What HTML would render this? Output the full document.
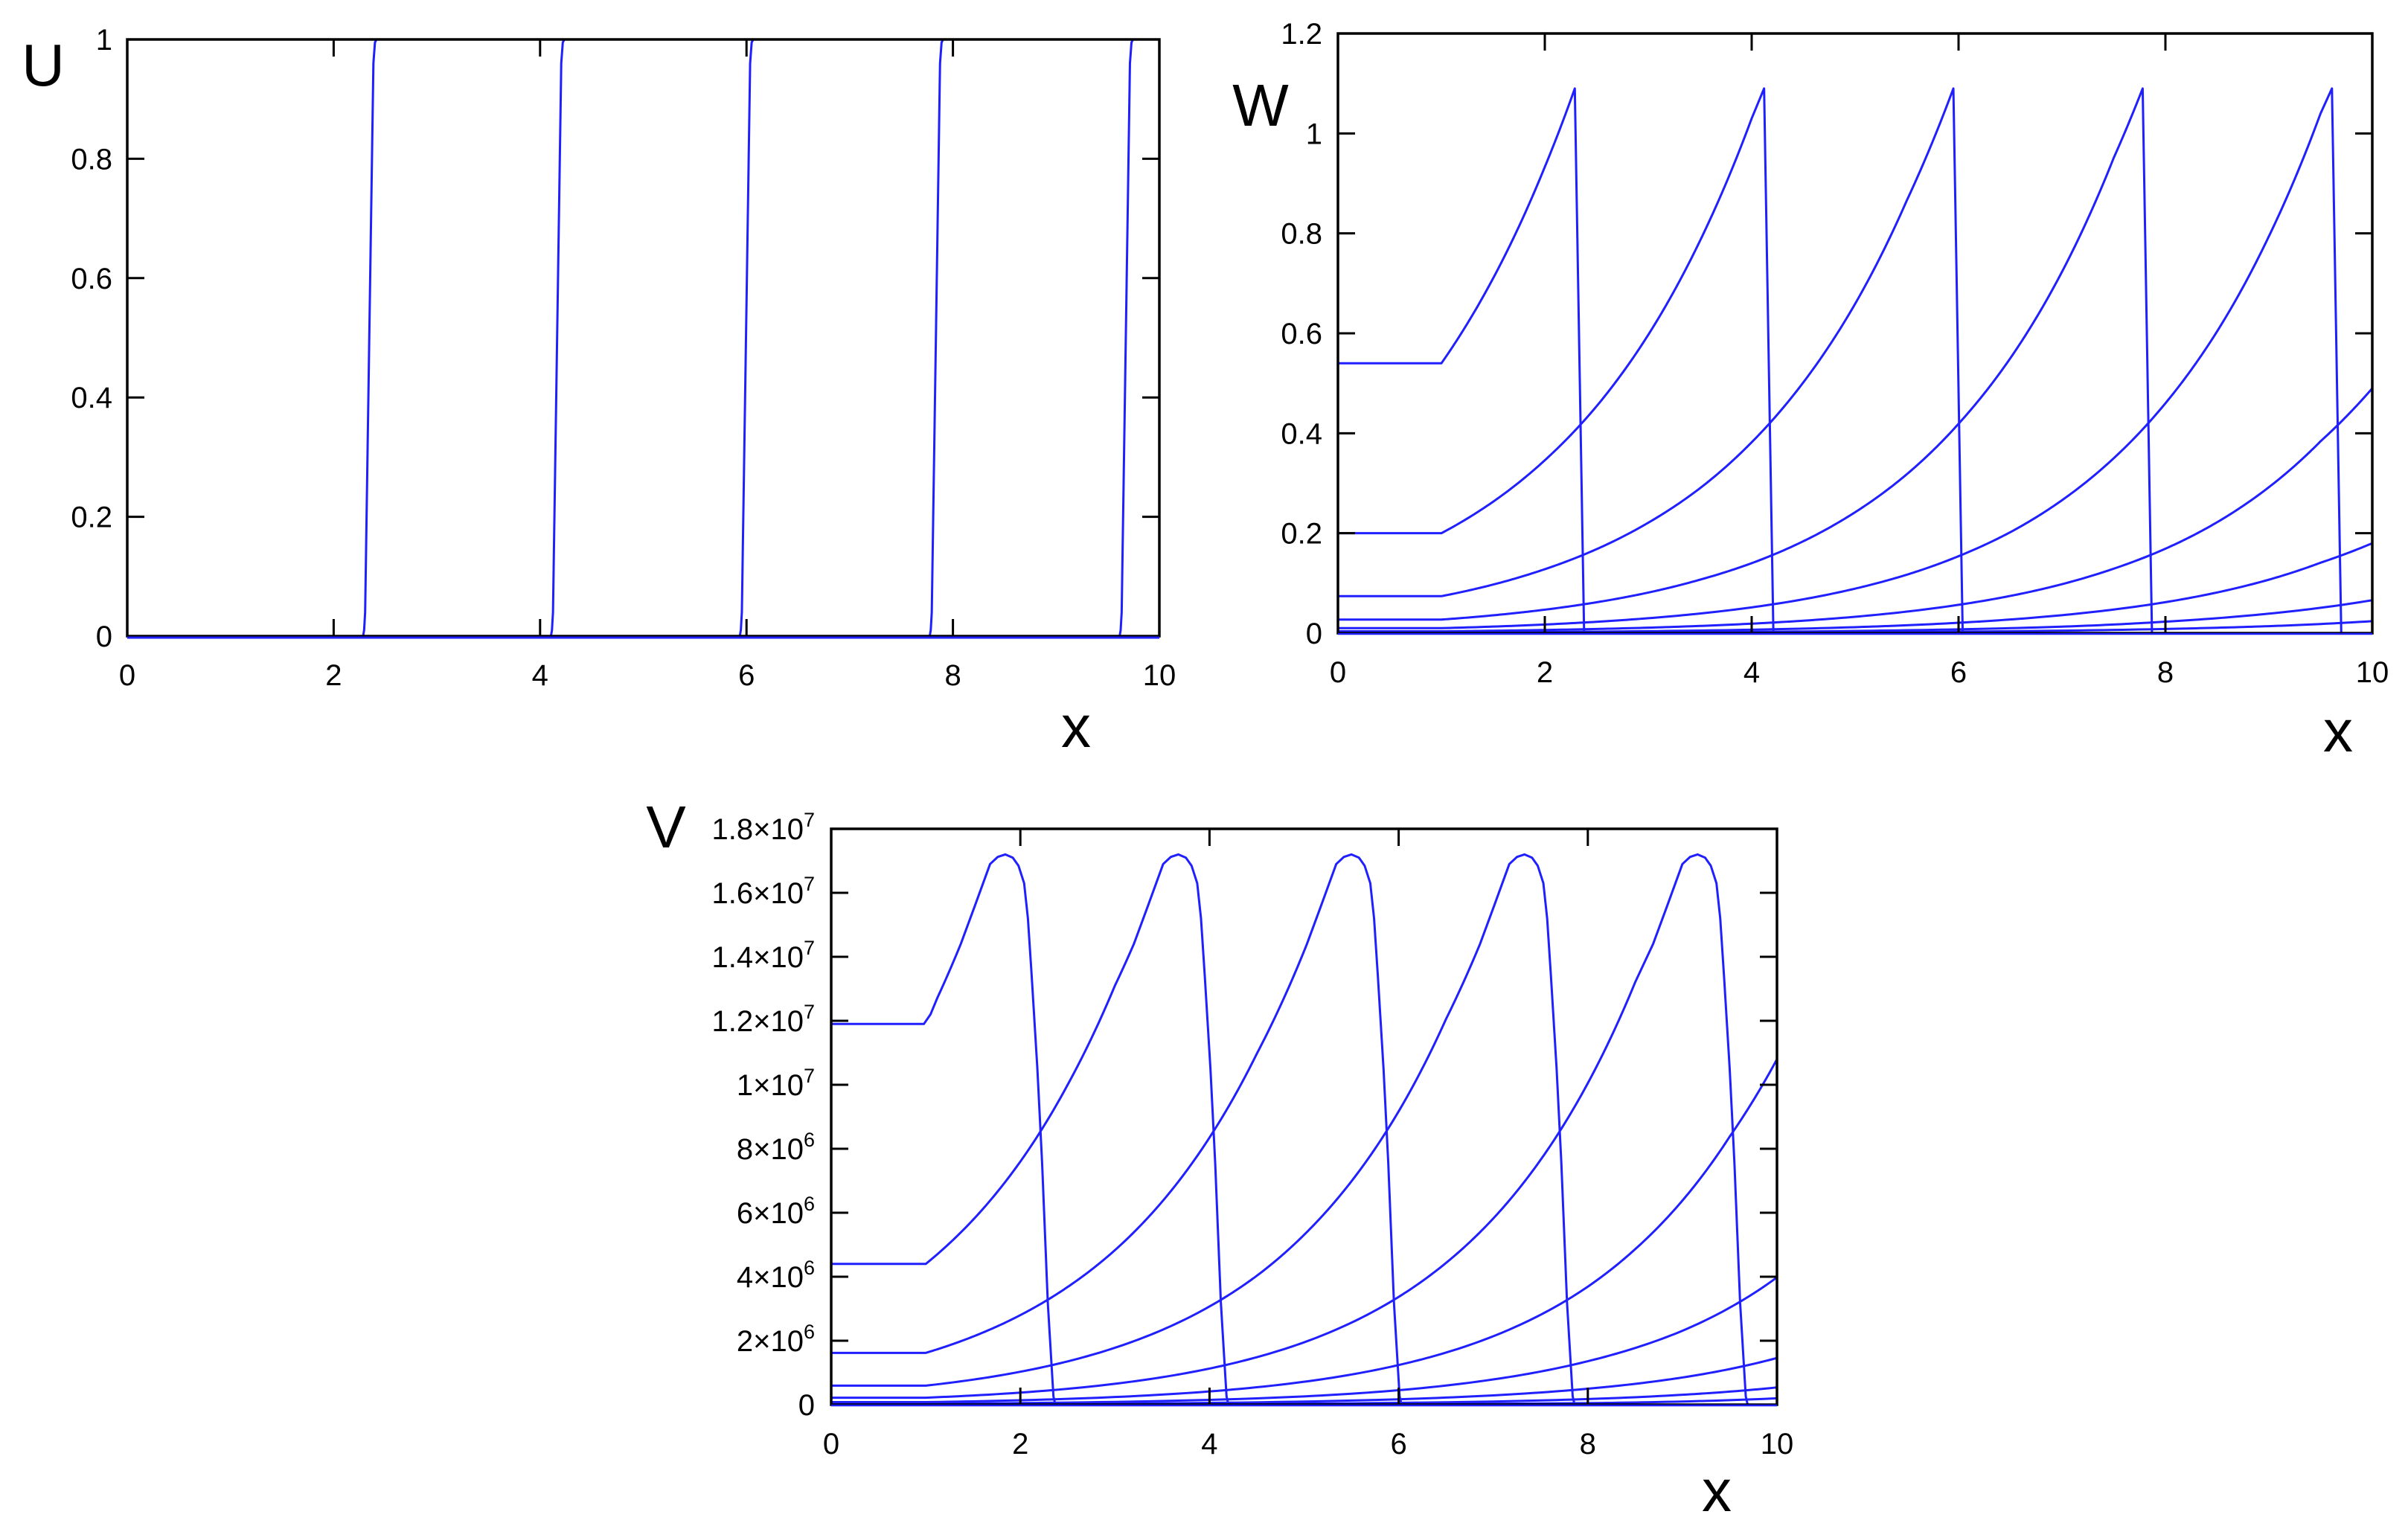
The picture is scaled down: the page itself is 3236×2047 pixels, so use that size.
<!DOCTYPE html>
<html><head><meta charset="utf-8"><style>
html,body{margin:0;padding:0;background:#fff;}
svg{display:block;}
text{font-family:"Liberation Sans","DejaVu Sans",sans-serif;fill:#000;}
</style></head><body>
<svg id="fig" width="3236" height="2047" viewBox="0 0 3236 2047" xmlns="http://www.w3.org/2000/svg">
<defs>
<clipPath id="clipU"><rect x="171" y="53" width="1387" height="806"/></clipPath>
<clipPath id="clipW"><rect x="1798" y="45" width="1390" height="808"/></clipPath>
<clipPath id="clipV"><rect x="1117" y="1114" width="1271" height="776"/></clipPath>
</defs>
<g id="panelU"></g>
<g id="panelW"></g>
<g id="panelV"></g>
</svg>
<script>
// ---- data ----
const xTicks = [0, 2, 4, 6, 8, 10];
const uTicks = [0, 0.2, 0.4, 0.6, 0.8, 1];
const uTickLabels = ["0", "0.2", "0.4", "0.6", "0.8", "1"];
const wTicks = [0, 0.2, 0.4, 0.6, 0.8, 1, 1.2];
const wTickLabels = ["0", "0.2", "0.4", "0.6", "0.8", "1", "1.2"];
const vTicks = [0, 2e6, 4e6, 6e6, 8e6, 1e7, 1.2e7, 1.4e7, 1.6e7, 1.8e7];
const vTickMant = ["0", "2", "4", "6", "8", "1", "1.2", "1.4", "1.6", "1.8"];
const vTickExp = ["", "6", "6", "6", "6", "7", "7", "7", "7", "7"];

// U: front positions (x where U jumps 0 -> 1)
const uFronts = [2.35, 4.17, 6.0, 7.84, 9.68];

// W curves: [x, y] samples
const wCurves = [
  [[0,0.54],[1,0.54],[1.5,0.71],[2,0.933],[2.29,1.09],[2.38,0],[10,0]],
  [[0,0.2],[1,0.2],[1.5,0.263],[2,0.346],[2.5,0.454],[3,0.597],[3.5,0.785],[4,1.03],[4.12,1.09],[4.21,0],[10,0]],
  [[0,0.074],[1,0.074],[1.5,0.0972],[2,0.128],[2.5,0.168],[3,0.221],[3.5,0.29],[4,0.382],[4.5,0.502],[5,0.659],[5.5,0.866],[5.95,1.09],[6.04,0],[10,0]],
  [[0,0.0272],[1,0.0272],[1.5,0.0357],[2,0.047],[2.5,0.0618],[3,0.0812],[3.5,0.107],[4,0.14],[4.5,0.184],[5,0.242],[5.5,0.318],[6,0.419],[6.5,0.55],[7,0.723],[7.5,0.951],[7.78,1.09],[7.87,0],[10,0]],
  [[0,0.01],[1,0.01],[2,0.0173],[3,0.0299],[4,0.0516],[5,0.0891],[5.5,0.117],[6,0.154],[6.5,0.202],[7,0.266],[7.5,0.35],[8,0.46],[8.5,0.604],[9,0.794],[9.5,1.04],[9.61,1.09],[9.7,0],[10,0]],
  [[0,0.00368],[1,0.00368],[2,0.0064],[3,0.011],[4,0.019],[5,0.0328],[6,0.0567],[6.5,0.0745],[7,0.098],[7.5,0.129],[8,0.169],[8.5,0.222],[9,0.292],[9.5,0.384],[10,0.49]],
  [[0,0.00135],[1,0.00135],[3,0.004],[5,0.012],[6,0.0208],[7,0.036],[8,0.062],[9,0.107],[9.5,0.141],[10,0.18]],
  [[0,0.0005],[1,0.0005],[5,0.0045],[7,0.013],[8,0.023],[9,0.039],[10,0.066]],
  [[0,0.0002],[1,0.0002],[6,0.003],[8,0.0084],[9,0.014],[10,0.024]]
];

// V curves: [x, y] samples
const vCurves = [
  [[0,1.19e7],[0.98,1.19e7],[1.05,1.22e7],[1.12,1.27e7],[1.37,1.44e7],[1.52,1.56e7],[1.68,1.69e7],[1.76,1.712e7],[1.84,1.72e7],[1.92,1.71e7],[1.98,1.685e7],[2.04,1.63e7],[2.08,1.52e7],[2.12,1.34e7],[2.18,1.05e7],[2.23,7.56e6],[2.29,3.2e6],[2.35,2.6e5],[2.37,0],[10,0]],
  [[0,4.4e6],[1,4.4e6],[1.5,5.78e6],[2,7.6e6],[2.5,1.0e7],[3,1.31e7],[3.2,1.44e7],[3.35,1.56e7],[3.51,1.69e7],[3.59,1.712e7],[3.67,1.72e7],[3.75,1.71e7],[3.81,1.685e7],[3.87,1.63e7],[3.91,1.52e7],[3.95,1.34e7],[4.01,1.05e7],[4.06,7.56e6],[4.12,3.2e6],[4.18,2.6e5],[4.2,0],[10,0]],
  [[0,1.62e6],[1,1.62e6],[1.5,2.13e6],[2,2.8e6],[2.5,3.68e6],[3,4.83e6],[3.5,6.35e6],[4,8.35e6],[4.5,1.097e7],[5.03,1.44e7],[5.18,1.56e7],[5.34,1.69e7],[5.42,1.712e7],[5.5,1.72e7],[5.58,1.71e7],[5.64,1.685e7],[5.7,1.63e7],[5.74,1.52e7],[5.78,1.34e7],[5.84,1.05e7],[5.89,7.56e6],[5.95,3.2e6],[6.01,2.6e5],[6.03,0],[10,0]],
  [[0,5.96e5],[1,5.96e5],[2,1.03e6],[3,1.78e6],[4,3.07e6],[4.5,4.03e6],[5,5.31e6],[5.5,6.98e6],[6,9.17e6],[6.5,1.205e7],[6.86,1.44e7],[7.01,1.56e7],[7.17,1.69e7],[7.25,1.712e7],[7.33,1.72e7],[7.41,1.71e7],[7.47,1.685e7],[7.53,1.63e7],[7.57,1.52e7],[7.61,1.34e7],[7.67,1.05e7],[7.72,7.56e6],[7.78,3.2e6],[7.84,2.6e5],[7.86,0],[10,0]],
  [[0,2.19e5],[1,2.19e5],[3,6.54e5],[4,1.13e6],[5,1.95e6],[6,3.37e6],[6.5,4.43e6],[7,5.82e6],[7.5,7.65e6],[8,1.005e7],[8.5,1.32e7],[8.69,1.44e7],[8.84,1.56e7],[9.0,1.69e7],[9.08,1.712e7],[9.16,1.72e7],[9.24,1.71e7],[9.3,1.685e7],[9.36,1.63e7],[9.4,1.52e7],[9.44,1.34e7],[9.5,1.05e7],[9.55,7.56e6],[9.61,3.2e6],[9.67,2.6e5],[9.69,0],[10,0]],
  [[0,8.06e4],[1,8.06e4],[3,2.4e5],[5,7.17e5],[6,1.24e6],[7,2.14e6],[8,3.69e6],[8.5,4.86e6],[9,6.38e6],[9.5,8.38e6],[10,1.08e7]],
  [[0,3.0e4],[1,3.0e4],[5,2.6e5],[7,7.9e5],[8,1.36e6],[9,2.31e6],[10,3.98e6]],
  [[0,1.1e4],[1,1.1e4],[6,1.7e5],[8,5.0e5],[9,8.5e5],[10,1.46e6]],
  [[0,4e3],[1,4e3],[7,1.0e5],[9,3.1e5],[10,5.4e5]],
  [[0,1.5e3],[1,1.5e3],[8,5e4],[10,2.0e5]]
];

// ---- rendering ----
const NS = "http://www.w3.org/2000/svg";
function mk(tag, attrs, parent) {
  const e = document.createElementNS(NS, tag);
  for (const k in attrs) e.setAttribute(k, attrs[k]);
  parent.appendChild(e);
  return e;
}
function linScale(d0, d1, r0, r1) { return v => r0 + (v - d0) / (d1 - d0) * (r1 - r0); }

function curvePath(data, sx, sy) {
  let d = "";
  for (let i = 0; i < data.length; i++) {
    const [x, y] = data[i];
    if (i === 0) { d += "M" + sx(x).toFixed(2) + "," + sy(y).toFixed(2); continue; }
    const [x0, y0] = data[i-1];
    if (y0 > 0 && y > 0 && y !== y0 && (x - x0) > 0.2) {
      const steps = 24;
      for (let s = 1; s <= steps; s++) {
        const f = s / steps;
        const xi = x0 + (x - x0) * f;
        const yi = y0 * Math.pow(y / y0, f);
        d += "L" + sx(xi).toFixed(2) + "," + sy(yi).toFixed(2);
      }
    } else {
      d += "L" + sx(x).toFixed(2) + "," + sy(y).toFixed(2);
    }
  }
  return d;
}

function drawAxes(g, L, T, R, B, sx, sy, yTicks, yLabelFn, titleY, titleYx, titleYy, titleX, titleXx, titleXy, prefix) {
  const TL = 23;
  for (let i = 0; i < xTicks.length; i++) {
    const x = sx(xTicks[i]);
    if (i > 0 && i < xTicks.length - 1) {
      const t1 = mk("line", {x1:x, y1:B, x2:x, y2:B-TL, stroke:"#000", "stroke-width":3}, g);
      
      
      const t2 = mk("line", {x1:x, y1:T, x2:x, y2:T+TL, stroke:"#000", "stroke-width":3}, g);
      
      
    }
    const lb = mk("text", {x:x, y:B+66, "font-size":40, "text-anchor":"middle"}, g);
    lb.textContent = String(xTicks[i]);
    
    
  }
  for (let i = 0; i < yTicks.length; i++) {
    const y = sy(yTicks[i]);
    if (i > 0 && i < yTicks.length - 1) {
      const t1 = mk("line", {x1:L, y1:y, x2:L+TL, y2:y, stroke:"#000", "stroke-width":3}, g);
      
      
      const t2 = mk("line", {x1:R, y1:y, x2:R-TL, y2:y, stroke:"#000", "stroke-width":3}, g);
      
      
    }
    yLabelFn(g, i, y);
  }
  const frame = mk("rect", {x:L, y:T, width:R-L, height:B-T, fill:"none", stroke:"#000", "stroke-width":3.5}, g);
  
  
  const ty = mk("text", {x:titleYx, y:titleYy, "font-size":80, "text-anchor":"middle"}, g);
  ty.textContent = titleY;
  
  
  const tx = mk("text", {x:titleXx, y:titleXy, "font-size":80, "text-anchor":"middle"}, g);
  tx.textContent = titleX;
  
  
}

const LINE = "#2020ff";
const LW = 3;

// ---------- U panel ----------
(function(){
  const g = document.getElementById("panelU");
  const L=171,T=53,R=1558,B=855;
  const sx = linScale(0,10,L,R), sy = linScale(0,1,B,T);
  const cg = mk("g", {"clip-path":"url(#clipU)"}, g);
  uFronts.forEach((f) => {
    const pts = [[0,0],[f-0.065,0],[f-0.055,0.01],[f-0.045,0.04],[f+0.035,0.96],[f+0.05,0.995],[f+0.065,1],[10,1]];
    const p = mk("path", {d: curvePath(pts, sx, sy), fill:"none", stroke:LINE, "stroke-width":LW, "stroke-linejoin":"round"}, cg);
    
    
  });
  drawAxes(g, L,T,R,B, sx, sy, uTicks, (gg,i,y) => {
    const t = mk("text", {x:L-20, y:y+14, "font-size":40, "text-anchor":"end"}, gg);
    t.textContent = uTickLabels[i];
    
    
  }, "U", 58, 115, "x", 1446, 1004, "u");
  const base = mk("line", {x1:L, y1:B+2, x2:R, y2:B+2, stroke:LINE, "stroke-width":3}, g);
  
  
})();

// ---------- W panel ----------
(function(){
  const g = document.getElementById("panelW");
  const L=1798,T=45,R=3188,B=851;
  const sx = linScale(0,10,L,R), sy = linScale(0,1.2,B,T);
  const cg = mk("g", {"clip-path":"url(#clipW)"}, g);
  wCurves.forEach((c) => {
    const p = mk("path", {d: curvePath(c, sx, sy), fill:"none", stroke:LINE, "stroke-width":LW, "stroke-linejoin":"round"}, cg);
    
    
  });
  drawAxes(g, L,T,R,B, sx, sy, wTicks, (gg,i,y) => {
    const t = mk("text", {x:L-21, y:y+14, "font-size":40, "text-anchor":"end"}, gg);
    t.textContent = wTickLabels[i];
    
    
  }, "W", 1694, 169, "x", 3142, 1010, "w");
  const base = mk("line", {x1:L, y1:B+1, x2:R, y2:B+1, stroke:LINE, "stroke-width":2.5}, g);
  
  
})();

// ---------- V panel ----------
(function(){
  const g = document.getElementById("panelV");
  const L=1117,T=1114,R=2388,B=1888;
  const sx = linScale(0,10,L,R), sy = linScale(0,1.8e7,B,T);
  const cg = mk("g", {"clip-path":"url(#clipV)"}, g);
  vCurves.forEach((c) => {
    const p = mk("path", {d: curvePath(c, sx, sy), fill:"none", stroke:LINE, "stroke-width":LW, "stroke-linejoin":"round"}, cg);
    
    
  });
  drawAxes(g, L,T,R,B, sx, sy, vTicks, (gg,i,y) => {
    const t = mk("text", {x:L-22, y:y+14, "font-size":40, "text-anchor":"end"}, gg);
    if (vTickExp[i] === "") {
      t.textContent = vTickMant[i];
    } else {
      const a = mk("tspan", {}, t);
      a.textContent = vTickMant[i] + "\u00d710";
      const b = mk("tspan", {"font-size":27, dy:-17}, t);
      b.textContent = vTickExp[i];
    }
    
    
  }, "V", 895, 1139, "x", 2307, 2031, "v");
  const base = mk("line", {x1:L, y1:B+1, x2:R, y2:B+1, stroke:LINE, "stroke-width":2.5}, g);
  
  
})();
</script>
</body></html>
